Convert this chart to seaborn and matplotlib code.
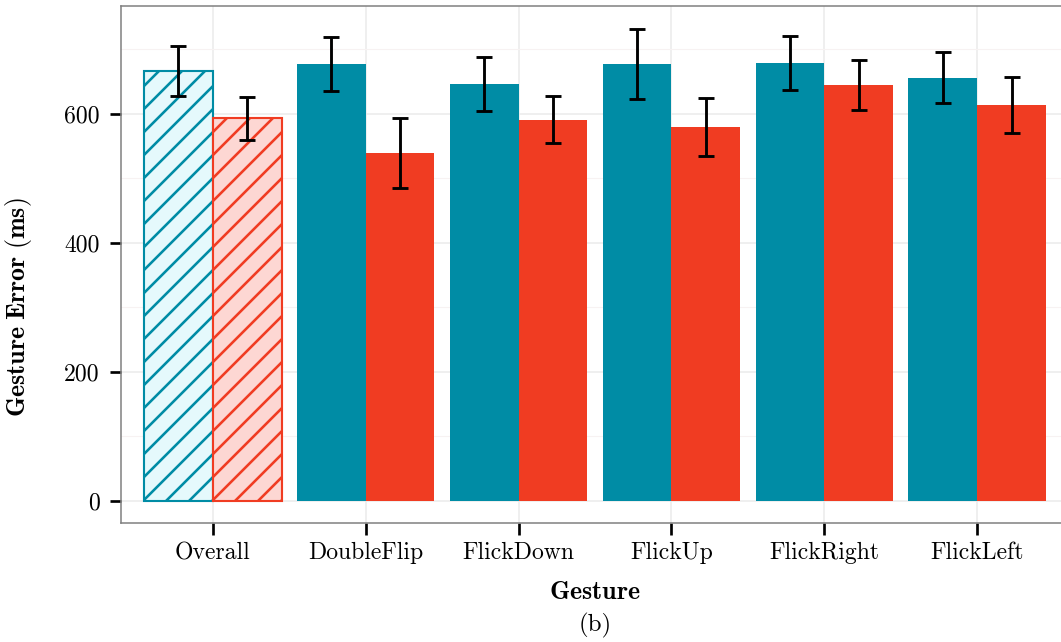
import matplotlib
matplotlib.use("Agg")
import matplotlib.pyplot as plt
import pandas as pd
import seaborn as sns
from matplotlib.ticker import MultipleLocator

# Data
gestures = ["Overall", "DoubleFlip", "FlickDown", "FlickUp", "FlickRight", "FlickLeft"]
conditions = ["A", "B"]
mean_a = [666, 677, 646, 677, 679, 656]
err_a = [39, 42.5, 42, 54, 42, 40]
mean_b = [593, 539, 591, 580, 645, 614]
err_b = [33, 54, 37, 45, 39, 43.5]

teal = "#008ca5"
red = "#f03c22"
teal_light = "#e5f9fc"
red_light = "#fdd7d3"

df = pd.DataFrame({
    "gesture": gestures * 2,
    "condition": [conditions[0]] * len(gestures) + [conditions[1]] * len(gestures),
    "error": mean_a + mean_b,
    "sd": err_a + err_b,
})

DPI = 138
plt.rcParams["hatch.linewidth"] = 1.35
plt.rcParams["mathtext.fontset"] = "cm"
fig = plt.figure(figsize=(1061 / DPI, 642 / DPI), dpi=DPI)
ax = fig.add_axes([121 / 1061, 119 / 642, 948 / 1061, 517 / 642])

sns.barplot(data=df, x="gesture", y="error", hue="condition", order=gestures,
            hue_order=conditions, palette=[teal, red], saturation=1, width=0.9,
            errorbar=None, legend=False, ax=ax)

# Overall bars are hatched and light-filled
for cont, edge, face in zip(ax.containers, [teal, red], [teal_light, red_light]):
    p = cont.patches[0]
    p.set_facecolor(face)
    p.set_edgecolor(edge)
    p.set_linewidth(1.1)
    p.set_hatch("//")

# error bars at bar centres
for cont, m, e in zip(ax.containers, [mean_a, mean_b], [err_a, err_b]):
    xs = [p.get_x() + p.get_width() / 2 for p in cont.patches]
    ax.errorbar(xs, m, yerr=e, fmt="none", ecolor="black", elinewidth=1.5,
                capsize=4, capthick=1.5, zorder=5)

ax.set_xlim(-0.6, 5.6)
ax.set_ylim(-34.5, 767)
ax.yaxis.set_major_locator(MultipleLocator(200))
ax.yaxis.set_minor_locator(MultipleLocator(100))
ax.set_yticks([0, 200, 400, 600])

ax.set_facecolor("white")
ax.set_axisbelow(True)
ax.grid(which="major", color="#ebebeb", linewidth=0.8)
ax.grid(which="minor", axis="y", color="#f7f2f2", linewidth=0.6)
for s in ax.spines.values():
    s.set_color("#808080")
    s.set_linewidth(0.8)

ax.tick_params(which="major", length=6, width=1.4, color="black", pad=4)
ax.tick_params(which="minor", length=0)
ax.tick_params(axis="y", pad=5)
for lab in ax.get_xticklabels() + ax.get_yticklabels():
    lab.set_fontfamily("cmr10")
    lab.set_fontsize(12.4)

ax.set_xlabel(r"$\mathbf{Gesture}$", fontsize=13.5, va="center")
ax.set_ylabel(r"$\mathbf{Gesture\ Error\ (ms)}$", fontsize=13.5, va="center")
ax.xaxis.set_label_coords(0.5, (523 - 592) / 517)
ax.yaxis.set_label_coords((18 - 121) / 948, (523 - 307) / 517)
fig.text(595 / 1061, 1 - 625 / 642, "(b)", fontfamily="cmr10", fontsize=13,
         ha="center", va="center")

fig.savefig("out.png", dpi=DPI)
